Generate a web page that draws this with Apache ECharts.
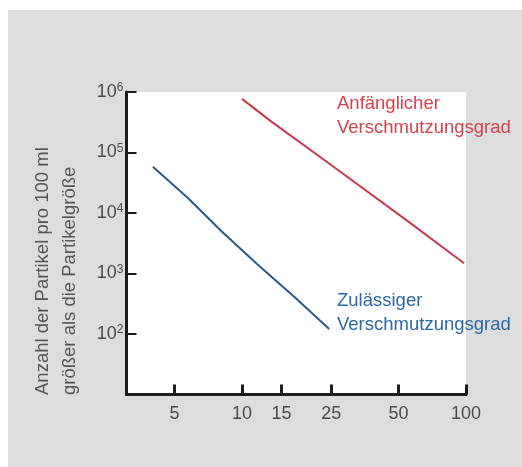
<!DOCTYPE html>
<html>
<head>
<meta charset="utf-8">
<script src="https://cdn.jsdelivr.net/npm/echarts@6/dist/echarts.min.js"></script>
<style>
  html, body { margin: 0; padding: 0; background: #fff; }
  #chart {
    position: absolute;
    left: 8px;
    top: 10px;
    width: 514px;
    height: 457px;
    background: #dcdddf;
  }
</style>
</head>
<body>
<div id="chart"></div>
<script>
// particle size in µm vs. particles per 100 ml larger than that size
const initialSizes = [10, 13.3, 25, 54, 98]
const initialCounts = [770000, 340000, 62000, 7700, 1480]
const allowedSizes = [4, 5.75, 8.1, 11.8, 17.1, 24.5]
const allowedCounts = [58000, 17500, 5000, 1380, 414, 121]

const xTicks = [5, 10, 15, 25, 50, 100]
const yTicks = [100, 1000, 10000, 100000, 1000000]

const FONT_FAMILY = "'Liberation Sans', Arial, sans-serif"
const COLORS = {
  red: '#c83a4c',
  redText: '#d8404f',
  blue: '#2b5a88',
  blueText: '#2b68a6',
  axis: '#1b1b1b',
  label: '#4a4a4a',
  title: '#555555',
}

function pairs(xs, ys) {
  return xs.map((x, i) => [x, ys[i]])
}

const chart = echarts.init(document.getElementById('chart'))

chart.setOption({
  animation: false,
  grid: {
    left: 118.5,
    right: 56,
    top: 82,
    bottom: 72.5,
    show: true,
    backgroundColor: '#ffffff',
    borderWidth: 0,
  },
  xAxis: {
    type: 'log',
    logBase: 10,
    min: 3.05,
    max: 100,
    axisLine: { lineStyle: { color: COLORS.axis, width: 3 } },
    axisTick: {
      inside: true,
      length: 10,
      lineStyle: { color: COLORS.axis, width: 3 },
      customValues: xTicks,
    },
    axisLabel: {
      customValues: xTicks,
      margin: 11,
      fontFamily: FONT_FAMILY,
      fontSize: 18,
      color: COLORS.label,
    },
    splitLine: { show: false },
  },
  yAxis: {
    type: 'log',
    logBase: 10,
    min: 10,
    max: 1000000,
    axisLine: { lineStyle: { color: COLORS.axis, width: 3 } },
    axisTick: {
      inside: true,
      length: 10,
      lineStyle: { color: COLORS.axis, width: 2 },
      customValues: yTicks,
    },
    axisLabel: {
      customValues: yTicks,
      margin: 3,
      fontFamily: FONT_FAMILY,
      fontSize: 18,
      color: COLORS.label,
      formatter: v => '10{s|' + Math.round(Math.log10(v)) + '}',
      rich: {
        s: { fontSize: 12, verticalAlign: 'top', padding: [0, 0, 8, 0], color: COLORS.label, fontFamily: FONT_FAMILY },
      },
    },
    splitLine: { show: false },
  },
  series: [
    {
      name: 'Anfänglicher Verschmutzungsgrad',
      type: 'line',
      data: pairs(initialSizes, initialCounts),
      symbol: 'none',
      lineStyle: { color: COLORS.red, width: 2 },
    },
    {
      name: 'Zulässiger Verschmutzungsgrad',
      type: 'line',
      data: pairs(allowedSizes, allowedCounts),
      symbol: 'none',
      lineStyle: { color: COLORS.blue, width: 2 },
    },
  ],
  graphic: [
    {
      type: 'text',
      x: 329,
      y: 106,
      style: {
        text: 'Anfänglicher\nVerschmutzungsgrad',
        fill: COLORS.redText,
        font: '18.5px ' + FONT_FAMILY,
        lineHeight: 24,
        textAlign: 'left',
        textVerticalAlign: 'middle',
      },
    },
    {
      type: 'text',
      x: 329,
      y: 303,
      style: {
        text: 'Zulässiger\nVerschmutzungsgrad',
        fill: COLORS.blueText,
        font: '18.5px ' + FONT_FAMILY,
        lineHeight: 24,
        textAlign: 'left',
        textVerticalAlign: 'middle',
      },
    },
    {
      type: 'text',
      x: 48.5,
      y: 385,
      rotation: Math.PI / 2,
      style: {
        text: 'Anzahl der Partikel pro 100 ml\ngrößer als die Partikelgröße',
        fill: COLORS.title,
        font: '18.5px ' + FONT_FAMILY,
        lineHeight: 27,
        textAlign: 'left',
        textVerticalAlign: 'middle',
      },
    },
  ],
})
</script>
</body>
</html>
